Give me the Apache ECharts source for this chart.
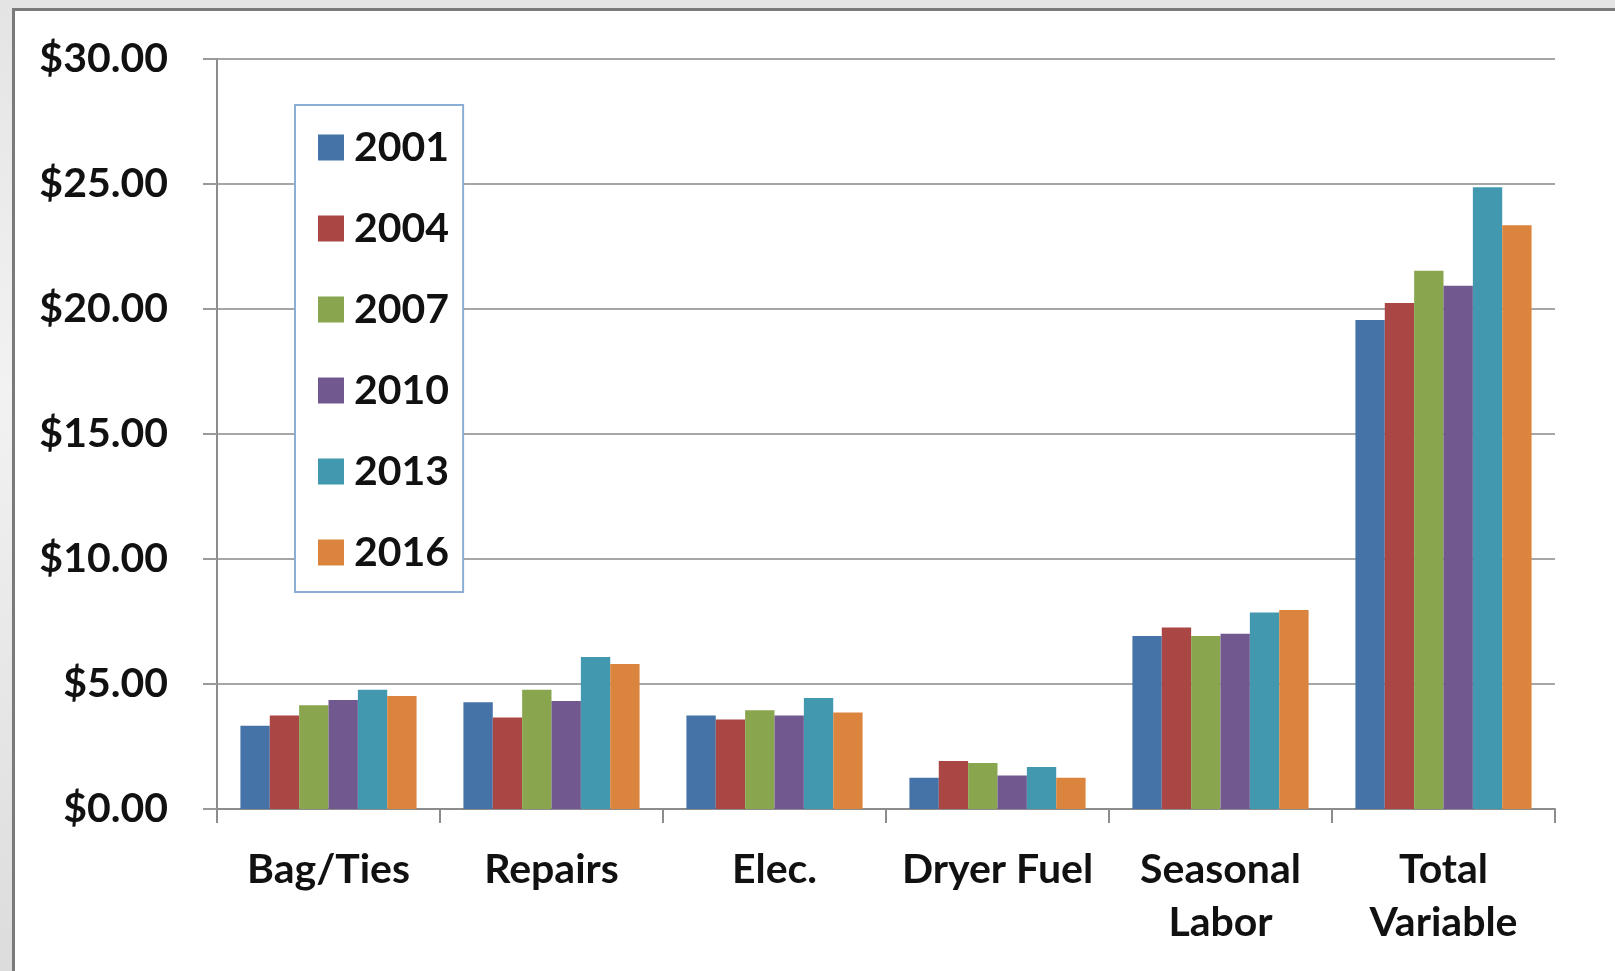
<!DOCTYPE html>
<html>
<head>
<meta charset="utf-8">
<script src="https://cdn.jsdelivr.net/npm/echarts@6/dist/echarts.min.js"></script>
<style>
  html, body { margin: 0; padding: 0; width: 1615px; height: 971px; overflow: hidden;
    background: linear-gradient(180deg, #e4e4e4 0%, #f2f2f2 40%, #dcdcdc 100%); }
  #frame { position: absolute; left: 12px; top: 8px; width: 1640px; height: 1000px;
    background: #fff; border: 3px solid #7a7a7a; box-sizing: border-box; }
  #chart { position: absolute; left: 0; top: 0; width: 1615px; height: 971px; }
</style>
</head>
<body>
<div id="frame"></div>
<div id="chart"></div>
<script>
const categories = ["Bag/Ties", "Repairs", "Elec.", "Dryer Fuel", "Seasonal\nLabor", "Total\nVariable"];
const years = ["2001", "2004", "2007", "2010", "2013", "2016"];
const v2001 = [3.33, 4.27, 3.74, 1.25, 6.92, 19.56];
const v2004 = [3.74, 3.66, 3.58, 1.92, 7.26, 20.24];
const v2007 = [4.15, 4.77, 3.95, 1.84, 6.92, 21.53];
const v2010 = [4.36, 4.32, 3.74, 1.34, 7.01, 20.93];
const v2013 = [4.77, 6.08, 4.44, 1.68, 7.86, 24.87];
const v2016 = [4.52, 5.80, 3.86, 1.25, 7.96, 23.35];
const seriesValues = [v2001, v2004, v2007, v2010, v2013, v2016];
const colors = ["#4572A7", "#AA4643", "#89A54E", "#71588F", "#4198AF", "#DB843D"];
const yTicks = { min: 0, max: 30, interval: 5 };

const FONT = "Lato";
const chart = echarts.init(document.getElementById('chart'));
chart.setOption({
  backgroundColor: 'transparent',
  animation: false,
  color: colors,
  grid: { left: 217, right: 60, top: 59, bottom: 162, containLabel: false },
  legend: {
    orient: 'vertical',
    left: 295, top: 105,
    padding: [22, 14, 19, 23],
    itemWidth: 26, itemHeight: 26,
    itemGap: 40,
    backgroundColor: '#fff',
    borderColor: '#8aaed6', borderWidth: 2,
    icon: 'rect',
    textStyle: { fontFamily: FONT, fontWeight: 'bold', fontSize: 41, color: '#111', padding: [0, 0, 0, 5] },
    data: years
  },
  xAxis: {
    type: 'category',
    data: categories,
    axisLine: { lineStyle: { color: '#8c8c8c', width: 2 } },
    axisTick: { show: true, length: 14, lineStyle: { color: '#8c8c8c', width: 2 } },
    axisLabel: { fontFamily: FONT, fontWeight: 'bold', fontSize: 41, color: '#111', margin: 34, lineHeight: 53, interval: 0 }
  },
  yAxis: {
    type: 'value',
    min: yTicks.min, max: yTicks.max, interval: yTicks.interval,
    axisLine: { show: true, lineStyle: { color: '#8c8c8c', width: 2 } },
    axisTick: { show: true, length: 14, lineStyle: { color: '#9a9a9a', width: 2 } },
    splitLine: { lineStyle: { color: '#a6a6a6', width: 2 } },
    axisLabel: { fontFamily: FONT, fontWeight: 'bold', fontSize: 41, color: '#111', margin: 49,
      formatter: v => '$' + v.toFixed(2) }
  },
  series: years.map((y, i) => ({
    name: y, type: 'bar', data: seriesValues[i],
    barGap: '0%', barCategoryGap: '21%',
    itemStyle: { color: colors[i] }
  }))
});
</script>
</body>
</html>
